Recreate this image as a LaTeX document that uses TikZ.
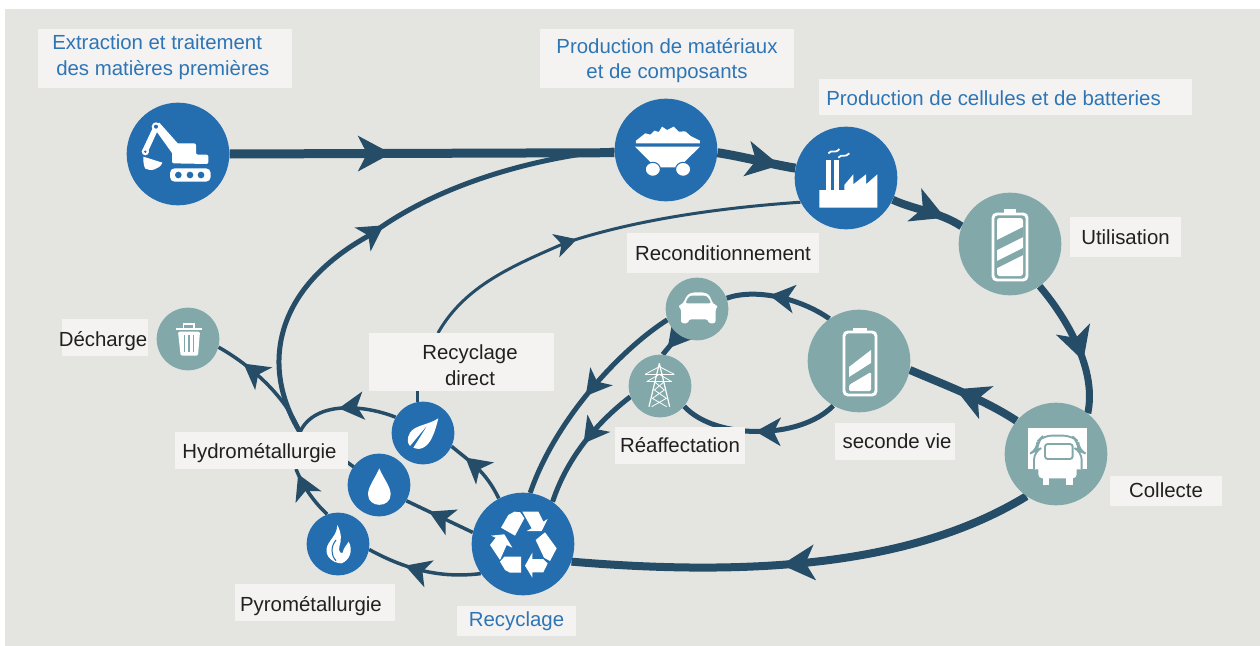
\documentclass[tikz,border=0pt]{standalone}
\usepackage{fontspec}
\setmainfont{Liberation Sans}
\usetikzlibrary{arrows.meta}
\usetikzlibrary{backgrounds}
\usetikzlibrary{decorations.markings}
\definecolor{stageblue}{HTML}{246DAF}
\definecolor{stageteal}{HTML}{83A8AA}
\definecolor{flowline}{HTML}{264D68}
\definecolor{paneback}{HTML}{E4E5E1}
\definecolor{labelback}{HTML}{F4F3F1}
\definecolor{titleblue}{HTML}{2E75B6}
\definecolor{labelink}{HTML}{231F20}
\tikzset{
  bigstage/.style={circle,inner sep=0pt,minimum size=77pt,fill=stageblue},
  smallstage/.style={circle,inner sep=0pt,minimum size=47pt,fill=stageblue},
  tealfill/.style={fill=stageteal},
  labbox/.style 2 args={fill=labelback,inner sep=0pt,minimum width=#1*.75pt,minimum height=#2*.75pt},
  labtext/.style={font=\fontsize{15.3}{19.2}\selectfont,text=labelink,align=center,inner sep=0pt},
  titletext/.style={labtext,text=titleblue},
  flow/.style={draw=flowline,line width=#1*.75pt},
  flowtip/.style n args={3}{postaction={decorate},decoration={markings,
    mark=at position #1 with {\arrow[flowline]{Stealth[length=#2*.75pt,width=#3*.75pt,inset=#2*.2pt]}}}},
  bigtip/.style={flowtip={#1}{33}{35}},
  midtip/.style={flowtip={#1}{25}{28}},
  smalltip/.style={flowtip={#1}{22}{24}},
  icon/.style={shift={#1},x=.25pt,y=-.25pt},
}
\begin{document}
\begin{tikzpicture}[x=.75pt,y=-.75pt]
  \useasboundingbox (0,0) rectangle (1260,646);

  \node[bigstage] (excav) at (178,154) {};
  \node[bigstage] (wagon) at (666,150) {};
  \node[bigstage] (factory) at (846,178) {};
  \node[bigstage,tealfill] (charged) at (1010,244) {};
  \node[bigstage,tealfill] (collect) at (1056,454) {};
  \node[bigstage,tealfill] (second) at (859,361) {};
  \node[bigstage] (recycle) at (523,544) {};
  \node[smallstage,tealfill] (car) at (697,309) {};
  \node[smallstage,tealfill] (pylon) at (660,386) {};
  \node[smallstage,tealfill] (bin) at (188,339) {};
  \node[smallstage] (leaf) at (423,433) {};
  \node[smallstage] (drop) at (379,485) {};
  \node[smallstage] (flame) at (338,544) {};

  \node[labbox={254}{59}] (extractbox) at (165,58.5) {};
  \node[titletext,align=left,anchor=west] (extract) at (52,57.5) {Extraction et traitement\\\hspace*{3pt}des matières premières};
  \node[labbox={254}{59}] (matterbox) at (667,58.5) {};
  \node[titletext] (matter) at (667,60.5) {Production de matériaux\\et de composants};
  \node[labbox={373}{36}] (cellbox) at (1005.5,97) {};
  \node[titletext,anchor=west] (cell) at (826,98) {Production de cellules et de batteries};
  \node[labbox={111}{40},labtext] (useage) at (1125.5,237) {Utilisation};
  \node[labbox={192}{40},labtext] (recond) at (723,253) {Reconditionnement};
  \node[labbox={185}{58}] (directbox) at (461.5,362) {};
  \node[labtext] (direct) at (470,365) {Recyclage\\direct};
  \node[labbox={86}{37}] (dumpbox) at (105,337.5) {};
  \node[labtext] (dump) at (103,341) {Décharge};
  \node[labbox={173}{37}] (hydro) at (261.5,450.5) {};
  \node[labtext] (hydrotext) at (259.5,453) {Hydrométallurgie};
  \node[labbox={130}{37},labtext] (reuse) at (680,445) {Réaffectation};
  \node[labbox={120}{37}] (secondbox) at (895,441.5) {};
  \node[labtext] (secondlab) at (897,441.5) {seconde vie};
  \node[labbox={112}{30},labtext] (collectlab) at (1166,490.5) {Collecte};
  \node[labbox={160}{37}] (pyrobox) at (315,602.5) {};
  \node[labtext] (pyro) at (311,606) {Pyrométallurgie};
  \node[labbox={119}{30},titletext] (recyclab) at (516.5,621) {Recyclage};

  \coordinate (hydrotop) at (300,432);
  \coordinate (hydroside) at (340,457);
  \coordinate (hydrobot) at (296,469);
  \coordinate (directtop) at (438,333);

  \begin{pgfonlayer}{background}
    \fill[paneback] (5,9) rectangle (1260,646);
    \path[flow=9,bigtip=.42] (excav.east) -- (wagon.183);
    \path[flow=9,bigtip=.8] (wagon.-3) .. controls (745,157) and (770,164) .. (factory.169);
    \path[flow=8,bigtip=.75] (factory.-25) .. controls (915,210) and (940,212) .. (charged.160);
    \path[flow=7,bigtip=.62] (charged.-55) .. controls (1060,310) and (1098,365) .. (collect.52);
    \path[flow=8,bigtip=.55] (collect.-125) .. controls (930,555) and (790,580) .. (recycle.-20);
    \path[flow=8,bigtip=.58] (collect.140) .. controls (985,400) and (945,385) .. (second.-10);
    \path[flow=5,midtip=.6] (second.125) .. controls (800,298) and (755,288) .. (car.20);
    \path[flow=5,midtip=.52] (second.-120) .. controls (800,440) and (715,440) .. (pylon.-40);
    \path[flow=5,midtip=.7] (car.-125) -- (pylon.85);
    \path[flow=5,midtip=.5] (car.-160) .. controls (620,350) and (555,420) .. (recycle.82);
    \path[flow=5,midtip=.5] (pylon.-160) .. controls (600,420) and (568,455) .. (recycle.55);
    \path[flow=5,midtip=.51] (hydrotop) .. controls (262,370) and (270,290) .. (370,235)
      .. controls (450,175) and (560,155) .. (wagon.west);
    \path[flow=3.5,midtip=.75] (hydrotop) .. controls (285,395) and (250,365) .. (bin.-15);
    \path[flow=3.5,midtip=.55] (leaf.150) .. controls (365,405) and (315,400) .. (hydrotop);
    \path[flow=3.5] (drop.center) -- (hydroside);
    \path[flow=3.5,midtip=.9] (flame.110) .. controls (315,503) and (303,487) .. (hydrobot);
    \path[flow=3.5,midtip=.75] (recycle.118) .. controls (485,470) and (470,462) .. (leaf.-25);
    \path[flow=3.5,midtip=.66] (recycle.167) -- (drop.-30);
    \path[flow=3.5,midtip=.66] (recycle.-145) .. controls (445,578) and (410,572) .. (flame.-10);
    \path[flow=3] (leaf.100) -- (leaf.100 |- directbox.south);
    \path[flow=3,smalltip=.43] (directtop) .. controls (465,285) and (515,265) .. (565,243)
      .. controls (640,218) and (730,207) .. (factory.-152);
  \end{pgfonlayer}

  \begin{scope}[icon={(0,0)}]
    \fill[white,rounded corners=3.5pt] (510,505) rectangle (632,545);
    \foreach \x in {535,570,603}
      \fill[stageblue] (\x,525) circle (10);
    \fill[white,rounded corners=1.5pt] (516,490) -- (516,430) -- (588,430) -- (588,464) -- (625,464) -- (625,492) -- cycle;
    \fill[white] (458,378) -- (478,368) -- (535,432) -- (518,462) -- cycle;
    \fill[white] (460,380) -- (476,385) -- (444,455) -- (428,448) -- cycle;
    \fill[white] (468,380) circle (13);
    \fill[stageblue] (468,380) circle (6);
    \fill[white] (436,455) circle (11);
    \fill[stageblue] (436,455) circle (4);
    \fill[white] (430,470) -- (487,488) .. controls (480,508) and (450,515) .. (436,506) .. controls (430,495) and (430,485) .. cycle;
  \end{scope}

  \begin{scope}[icon={(540,90)},x=.3157pt]
    \fill[white] (228,152) -- (250,130) -- (262,134) -- (272,122) -- (282,126) -- (290,110) -- (302,120) -- (318,110) -- (330,125) -- (345,124) -- (358,138) -- (380,152) -- (380,160) -- (228,160) -- cycle;
    \fill[white] (226,170) -- (380,170) -- (330,232) -- (275,232) -- cycle;
    \fill[white,draw=stageblue,line width=.8pt] (268,238) circle [x radius=18,y radius=21];
    \fill[white,draw=stageblue,line width=.8pt] (340,238) circle [x radius=18,y radius=21];
  \end{scope}

  \begin{scope}[icon={(790,125)}]
    \fill[white] (108,105) rectangle (122,200);
    \fill[white] (133,105) rectangle (147,200);
    \fill[white] (88,195) -- (163,195) -- (163,180) -- (190,148) -- (190,178) -- (228,148) -- (228,178) -- (262,148) -- (262,248) -- (88,248) -- cycle;
    \draw[white,line width=1.3pt] (115,85) .. controls (125,72) and (135,88) .. (148,72);
    \draw[white,line width=1.3pt] (145,98) .. controls (155,85) and (165,100) .. (178,85);
  \end{scope}

  \begin{scope}
    \fill[white] (1004,209) rectangle (1016,215);
    \draw[white,line width=2.2pt,rounded corners=3pt] (993,214) rectangle (1027,280);
    \fill[white,rounded corners=2pt] (997,218) rectangle (1023,276);
    \fill[stageteal] (997,240) -- (1023,227) -- (1023,237) -- (997,250) -- cycle;
    \fill[stageteal] (997,261) -- (1023,248) -- (1023,255) -- (997,268) -- cycle;
  \end{scope}

  \begin{scope}
    \fill[white] (853,328) rectangle (867,333);
    \draw[white,line width=2.2pt,rounded corners=3pt] (844,332) rectangle (876,395);
    \fill[white] (849,367) -- (871,350) -- (871,363) -- (849,377) -- cycle;
    \fill[white,rounded corners=1pt] (849,385) -- (871,372) -- (871,391) -- (849,391) -- cycle;
  \end{scope}

  \begin{scope}[icon={(1010,410)}]
    \fill[white] (55,55) rectangle (230,178);
    \fill[white,draw=stageteal,line width=1.4pt,rounded corners=6pt] (72,178) -- (72,125) -- (82,120) -- (82,95) -- (100,77) -- (185,77) -- (205,95) -- (205,120) -- (215,125) -- (215,178);
    \fill[white,draw=stageteal,line width=1.4pt,rounded corners=2pt] (105,102) rectangle (188,147);
    \fill[white,rounded corners=3pt] (85,165) rectangle (200,205);
    \fill[white] (98,200) rectangle (118,226);
    \fill[white] (168,200) rectangle (190,226);
  \end{scope}

  \begin{scope}[icon={(475,495)}]
    \fill[white] (78,98) -- (100,60) -- (118,50) -- (136,52) -- (148,70) -- (120,122) -- cycle;
    \fill[white] (142,50) -- (190,50) -- (205,80) -- (218,72) -- (200,108) -- (155,108) -- (170,100) -- cycle;
    \fill[white] (182,135) -- (210,112) -- (245,160) -- (225,198) -- (207,188) -- cycle;
    \fill[white] (172,173) -- (150,212) -- (172,248) -- (172,232) -- (205,232) -- (218,205) -- (204,192) -- (172,192) -- cycle;
    \fill[white] (75,200) -- (88,185) -- (138,185) -- (138,233) -- (105,233) -- (90,225) -- cycle;
    \fill[white] (62,128) -- (48,122) -- (88,118) -- (112,158) -- (95,150) -- (75,195) -- (45,150) -- cycle;
  \end{scope}

  \begin{scope}[icon={(625,275)}]
    \fill[white,rounded corners=2pt] (158,92) -- (172,88) -- (188,58) -- (205,52) -- (235,52) -- (252,58) -- (265,88) -- (280,92) -- (272,100) -- (272,145) -- (250,145) -- (250,133) -- (190,133) -- (190,145) -- (168,145) -- (168,100) -- cycle;
    \fill[stageteal,rounded corners=2pt] (180,85) -- (193,62) -- (245,62) -- (260,85) -- cycle;
    \draw[white,line width=.9pt] (103,265) -- (72,395) (103,265) -- (134,395);
    \draw[white,line width=1pt] (60,298) -- (148,298) (65,320) -- (140,320);
    \draw[white,line width=.6pt] (60,298) -- (103,275) -- (148,298) (65,320) -- (103,298) -- (140,320);
    \draw[white,line width=.6pt] (88,320) -- (118,345) -- (82,370) -- (125,395) (118,320) -- (88,345) -- (124,370) -- (80,395);
  \end{scope}

  \begin{scope}[icon={(150,305)}]
    \fill[white] (78,68) rectangle (155,75);
    \draw[white,line width=1pt] (100,68) -- (100,57) -- (132,57) -- (132,68);
    \fill[white,rounded corners=1pt] (84,80) -- (150,80) -- (144,152) -- (92,152) -- cycle;
    \foreach \x in {103,117,131}
      \draw[stageteal,line width=1pt] (\x,90) -- (\x,142);
  \end{scope}

  \begin{scope}[icon={(300,400)}]
    \fill[white] (238,205) .. controls (225,235) and (204,260) .. (204,283) .. controls (204,325) and (272,325) .. (272,283) .. controls (272,260) and (250,235) .. (238,205) -- cycle;
    \fill[white] (415,55) .. controls (385,75) and (345,75) .. (330,98) .. controls (320,115) and (322,130) .. (330,138) -- (385,72) -- (340,143) .. controls (365,155) and (385,135) .. (395,115) .. controls (405,95) and (410,75) .. cycle;
    \fill[white] (112,375) .. controls (125,400) and (125,420) .. (118,440) .. controls (115,455) and (122,462) .. (128,458) .. controls (130,445) and (140,435) .. (146,425) .. controls (160,450) and (150,480) .. (125,490) .. controls (100,490) and (75,470) .. (80,445) .. controls (85,420) and (110,410) .. (112,375) -- cycle;
    \draw[stageblue,line width=.8pt] (108,420) .. controls (92,440) and (92,465) .. (108,482);
  \end{scope}
\end{tikzpicture}
\end{document}
